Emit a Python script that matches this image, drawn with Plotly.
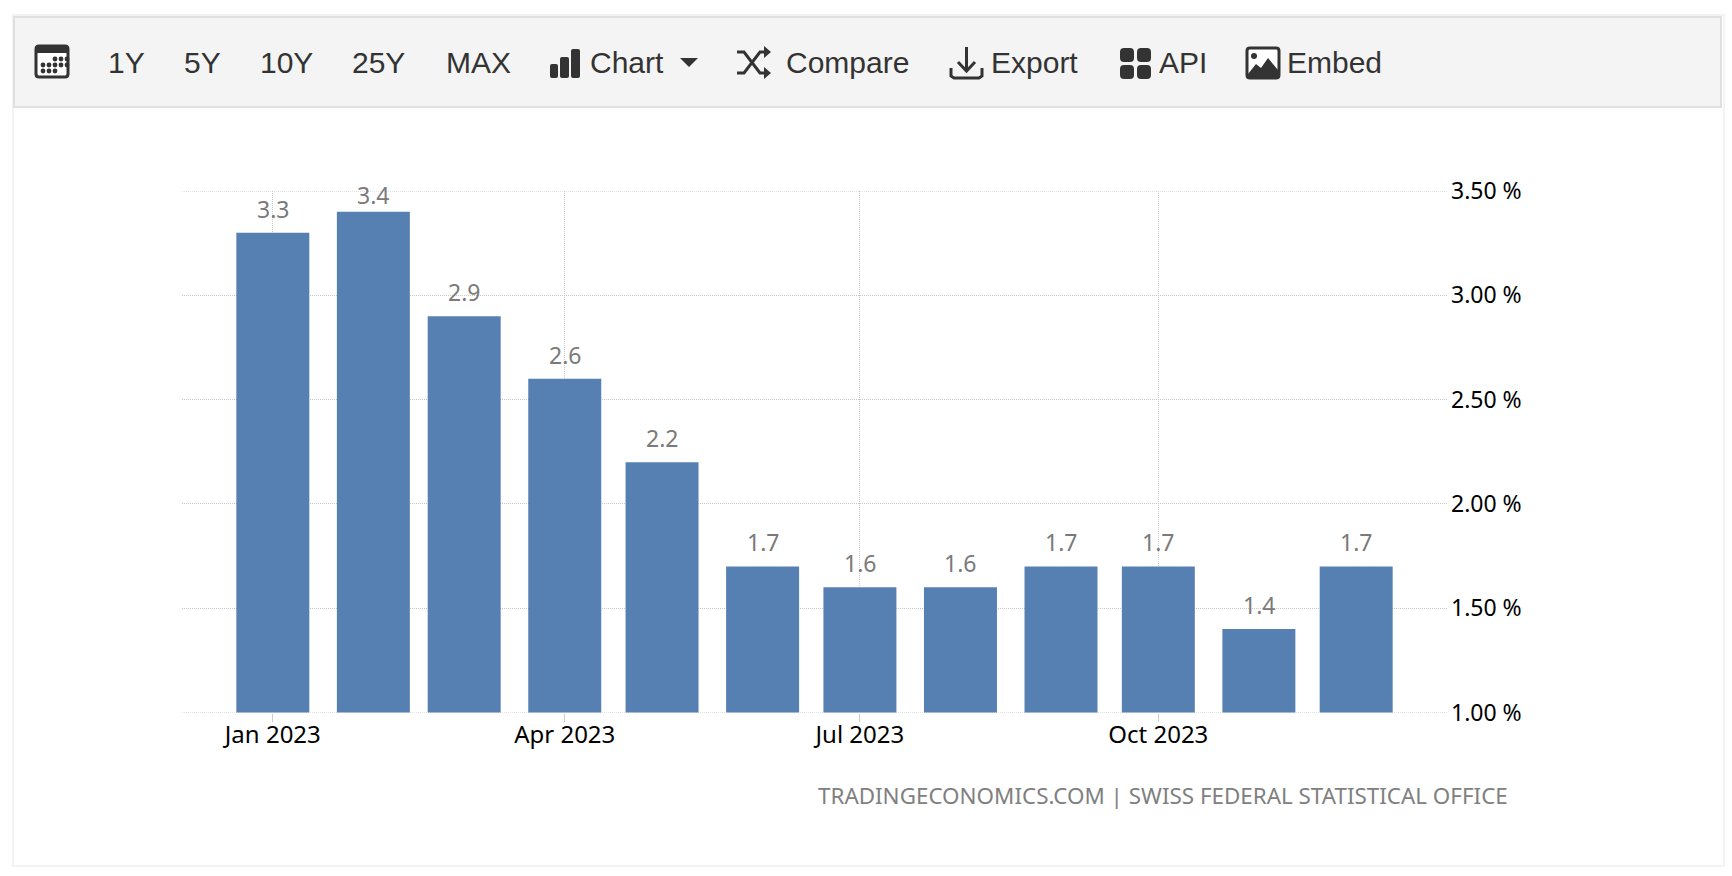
import pandas as pd
import plotly.graph_objs as go

months = ['2023-01-01', '2023-02-01', '2023-03-01', '2023-04-01', '2023-05-01', '2023-06-01',
          '2023-07-01', '2023-08-01', '2023-09-01', '2023-10-01', '2023-11-01', '2023-12-01']
inflation = [3.3, 3.4, 2.9, 2.6, 2.2, 1.7, 1.6, 1.6, 1.7, 1.7, 1.4, 1.7]
value_labels = ['3.3', '3.4', '2.9', '2.6', '2.2', '1.7', '1.6', '1.6', '1.7', '1.7', '1.4', '1.7']

x_ticks = ['2023-01-01', '2023-04-01', '2023-07-01', '2023-10-01']
x_tick_labels = ['Jan 2023', 'Apr 2023', 'Jul 2023', 'Oct 2023']
y_ticks = [1.0, 1.5, 2.0, 2.5, 3.0, 3.5]
y_tick_labels = ['1.00 %', '1.50 %', '2.00 %', '2.50 %', '3.00 %', '3.50 %']

toolbar_labels = ['1Y', '5Y', '10Y', '25Y', 'MAX', 'Chart', 'Compare', 'Export', 'API', 'Embed']
toolbar_left = [106, 181.5, 258, 350, 444, 588, 784, 989, 1157, 1285]
source_text = 'TRADINGECONOMICS.COM | SWISS FEDERAL STATISTICAL OFFICE'

W = 1732
H = 876
chart_font = 'Noto Sans, sans-serif'
dark = '#333333'
grid = '#c8c8c8'

df = pd.DataFrame({'month': pd.to_datetime(months), 'value': inflation, 'label': value_labels})


# page pixels to paper coordinates
def px(x):
    return x / W

def py(y):
    return 1 - y / H

def box(x0, y0, x1, y1, fill, line=None, width=0):
    return dict(type='rect', xref='paper', yref='paper', x0=px(x0), y0=py(y0), x1=px(x1), y1=py(y1),
                fillcolor=fill, line=dict(color=line, width=width), layer='below')

def dot(x, y, r, fill=dark):
    return dict(type='circle', xref='paper', yref='paper', x0=px(x-r), y0=py(y-r), x1=px(x+r), y1=py(y+r),
                fillcolor=fill, line=dict(width=0))

def poly(points, fill=None, line=None, width=0, close=True):
    path = 'M ' + ' L '.join('%f,%f' % (px(x), py(y)) for x, y in points)
    if close:
        path += ' Z'
    return dict(type='path', xref='paper', yref='paper', path=path, fillcolor=fill,
                line=dict(color=line, width=width))

def round_box(x0, y0, x1, y1, r, fill=None, line=None, width=0):
    path = 'M %f,%f L %f,%f Q %f,%f %f,%f L %f,%f Q %f,%f %f,%f L %f,%f Q %f,%f %f,%f L %f,%f Q %f,%f %f,%f Z' % (
        px(x0+r), py(y0), px(x1-r), py(y0), px(x1), py(y0), px(x1), py(y0+r),
        px(x1), py(y1-r), px(x1), py(y1), px(x1-r), py(y1),
        px(x0+r), py(y1), px(x0), py(y1), px(x0), py(y1-r),
        px(x0), py(y0+r), px(x0), py(y0), px(x0+r), py(y0))
    return dict(type='path', xref='paper', yref='paper', path=path, fillcolor=fill,
                line=dict(color=line, width=width))


shapes = []
# card and toolbar
shapes.append(box(13, 15, 1724, 866, 'white', '#f3f3f3', 2))
shapes.append(box(14, 17, 1721, 107, '#f4f4f4', '#e0e0e0', 2))

# first and last grid lines, plotly drops the ones on the edge of the plot
for tick in [y_ticks[0], y_ticks[-1]]:
    shapes.append(dict(type='line', xref='x domain', yref='y', x0=0, x1=1, y0=tick, y1=tick, layer='below',
                       line=dict(color=grid, width=1, dash='1px,1px')))

# calendar icon
shapes.append(round_box(36, 46, 68, 77, 3, 'white', dark, 3))
shapes.append(box(36, 46, 68, 53, dark))
shapes[-1]['layer'] = 'above'
for row, cols in [(59, [2, 3, 4]), (65, [0, 1, 2, 3, 4]), (71, [0, 1, 2])]:
    for col in cols:
        shapes.append(dot(43 + col * 6, row, 2.4))

# chart icon
shapes.append(round_box(550, 64, 558, 78, 2, dark))
shapes.append(round_box(560, 57, 569, 78, 2, dark))
shapes.append(round_box(571, 49, 580, 78, 2, dark))
shapes.append(poly([(680, 58), (698, 58), (689, 67)], dark))

# compare icon
shapes.append(poly([(737, 52), (744, 52), (760, 73), (768, 73)], None, dark, 3, False))
shapes.append(poly([(737, 73), (744, 73), (760, 52), (768, 52)], None, dark, 3, False))
shapes.append(poly([(764, 46), (771, 52), (764, 58)], dark))
shapes.append(poly([(764, 67), (771, 73), (764, 79)], dark))

# export icon
shapes.append(poly([(951, 68), (951, 76), (954, 78), (979, 78), (982, 76), (982, 68)], None, dark, 3, False))
shapes.append(poly([(966.5, 47), (966.5, 70)], None, dark, 3, False))
shapes.append(poly([(958, 62), (966.5, 71), (975, 62)], None, dark, 3, False))

# api icon
shapes.append(round_box(1120, 48, 1134, 62, 4, dark))
shapes.append(round_box(1137, 48, 1151, 62, 4, dark))
shapes.append(round_box(1120, 65, 1134, 79, 4, dark))
shapes.append(round_box(1137, 65, 1151, 79, 4, dark))

# embed icon
shapes.append(round_box(1247, 48, 1279, 78, 3, 'white', dark, 3))
shapes.append(dot(1254, 56, 3))
shapes.append(poly([(1248, 74), (1256, 64), (1261, 68), (1268, 58), (1278, 70), (1278, 77), (1248, 77)], dark))

annotations = []
for label, left in zip(toolbar_labels, toolbar_left):
    annotations.append(dict(text=label, xref='paper', yref='paper', x=px(left), y=py(63), xanchor='left',
                            yanchor='middle', showarrow=False,
                            font=dict(family='Liberation Sans', size=30, color=dark)))
annotations.append(dict(text=source_text, xref='paper', yref='paper', x=px(1510), y=py(795), xanchor='right',
                        yanchor='middle', showarrow=False,
                        font=dict(family=chart_font, size=22.4, color='#808080')))
# value labels above the bars, annotations so they are not clipped at the top of the plot
for month, value, label in zip(df['month'], df['value'], df['label']):
    shift = -1 if value == max(inflation) else 6  # tallest label is pushed down to stay near the plot
    annotations.append(dict(text=label, x=month, y=value, xref='x', yref='y', xanchor='center', yanchor='bottom',
                            yshift=shift, showarrow=False, font=dict(family=chart_font, size=23, color='#7a7a7a')))

fig = go.Figure()
fig.add_trace(go.Bar(x=df['month'], y=df['value'], width=22.5 * 24 * 3600 * 1000,
                     marker=dict(color='#5680B2', line=dict(width=0))))

fig.update_layout(width=W, height=H, margin=dict(l=0, r=0, t=0, b=0), showlegend=False,
                  paper_bgcolor='white', plot_bgcolor='white', shapes=shapes, annotations=annotations)
fig.update_xaxes(type='date', domain=[px(182), px(1447)], range=['2022-12-04', '2023-12-29'], automargin=False,
                 tickvals=x_ticks, ticktext=x_tick_labels, ticks='outside', ticklen=8, tickcolor='#cccccc',
                 ticklabelstandoff=-7,
                 showgrid=True, gridcolor=grid, griddash='1px,1px', gridwidth=1, showline=False, zeroline=False,
                 tickfont=dict(family=chart_font, size=24, color='black'))
fig.update_yaxes(domain=[py(712.5), py(191)], range=[1, 3.5], side='right', automargin=False,
                 tickvals=y_ticks, ticktext=y_tick_labels, ticklabelstandoff=3,
                 showgrid=True, gridcolor=grid, griddash='1px,1px', gridwidth=1, showline=False, zeroline=False,
                 tickfont=dict(family=chart_font, size=23, color='black'))

fig.write_html("out.html", post_script="document.body.style.margin = '0';", config={'displayModeBar': False})
